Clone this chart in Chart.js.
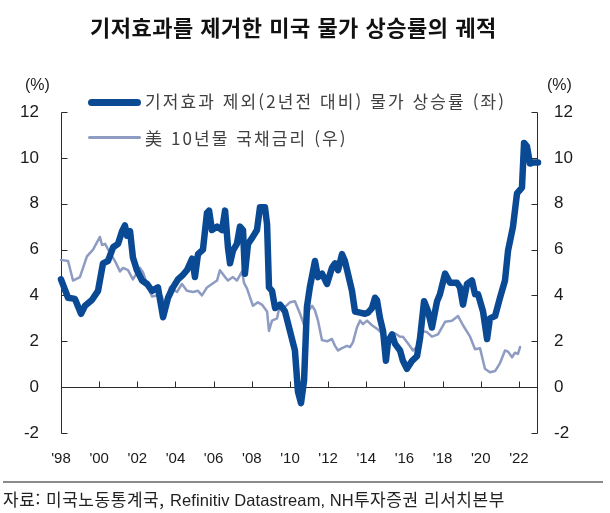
<!DOCTYPE html>
<html lang="ko">
<head>
<meta charset="utf-8">
<script src="https://cdn.jsdelivr.net/npm/chart.js@4.4.0/dist/chart.umd.min.js"></script>
<style>
  html, body { margin: 0; padding: 0; background: #fff; }
  #wrap { position: relative; width: 610px; height: 513px; overflow: hidden; font-family: "Noto Sans CJK KR", "Liberation Sans", sans-serif; }
  #c { position: absolute; left: 0; top: 0; }
  .t { position: absolute; white-space: nowrap; }
  #title { left: 90px; top: 12px; font-size: 22px; font-weight: bold; color: #111; line-height: 28px; letter-spacing: 0.5px; }
  .unit { top: 74px; font-family: "Liberation Sans", sans-serif; font-size: 16px; color: #222; line-height: 22px; }
  .leg { left: 145px; font-size: 17px; color: #404040; line-height: 22px; letter-spacing: 2.1px; }
  .sw { position: absolute; left: 88px; width: 53px; border-radius: 4px; }
  #sep { position: absolute; left: 3px; top: 481px; width: 600px; height: 2px; background: #8a8a8a; }
  #src { left: 3px; top: 487px; font-size: 17px; color: #222; line-height: 24px; letter-spacing: 0.55px; }
  #src .lat { font-family: "Liberation Sans", sans-serif; font-size: 16.5px; letter-spacing: 0.1px; }
</style>
</head>
<body>
<div id="wrap">
  <canvas id="c" width="610" height="513"></canvas>
  <div class="t" id="title">기저효과를 제거한 미국 물가 상승률의 궤적</div>
  <div class="t unit" style="left:25px">(%)</div>
  <div class="t unit" style="left:547px">(%)</div>
  <div class="sw" id="sw1" style="top:99px;height:7px;background:#0A4A94"></div>
  <div class="t leg" id="leg1" style="top:90px"></div>
  <div class="sw" id="sw2" style="top:136px;height:3px;background:#8E9BC2"></div>
  <div class="t leg" id="leg2" style="top:127px"></div>
  <div id="sep"></div>
  <div class="t" id="src">자료: 미국노동통계국, <span class="lat">Refinitiv Datastream, NH</span>투자증권 리서치본부</div>
</div>
<script>
// ---- data ----
const seriesNames = ["기저효과 제외(2년전 대비) 물가 상승률 (좌)", "美 10년물 국채금리 (우)"];

const blueYears = [1998.00,1998.37,1998.73,1999.05,1999.26,1999.62,1999.94,2000.20,2000.46,2000.73,2000.99,2001.20,2001.35,2001.46,2001.62,2001.77,2001.98,2002.25,2002.51,2002.77,2003.08,2003.35,2003.61,2003.87,2004.13,2004.39,2004.60,2004.87,2005.02,2005.18,2005.44,2005.65,2005.76,2005.91,2006.18,2006.44,2006.60,2006.75,2006.86,2007.01,2007.22,2007.38,2007.54,2007.64,2007.80,2008.01,2008.27,2008.43,2008.69,2008.80,2008.90,2009.06,2009.22,2009.48,2009.74,2010.00,2010.26,2010.42,2010.58,2010.74,2010.89,2011.05,2011.31,2011.47,2011.68,2011.94,2012.20,2012.36,2012.52,2012.73,2012.88,2013.04,2013.25,2013.41,2013.67,2013.93,2014.09,2014.30,2014.46,2014.56,2014.72,2014.88,2015.03,2015.14,2015.35,2015.50,2015.77,2015.92,2016.13,2016.40,2016.66,2016.82,2017.03,2017.24,2017.44,2017.71,2017.86,2018.13,2018.39,2018.75,2018.91,2019.07,2019.28,2019.54,2019.70,2019.86,2020.12,2020.33,2020.48,2020.75,2021.01,2021.27,2021.43,2021.69,2021.90,2022.16,2022.27,2022.42,2022.58,2022.74,2023.00];
const blueValues = [4.7,3.9,3.85,3.2,3.55,3.8,4.2,5.4,5.5,6.1,6.25,6.8,7.05,6.6,6.8,5.65,5.1,4.65,4.5,4.2,4.35,3.05,3.9,4.35,4.7,4.9,5.1,5.6,4.8,5.8,6.0,7.6,7.7,6.85,7.0,6.85,7.7,6.1,5.4,5.95,6.25,7.0,6.85,4.95,6.25,6.5,6.85,7.85,7.85,7.1,4.35,4.2,3.45,3.6,3.3,2.45,1.6,-0.2,-0.7,0.3,3.5,4.4,5.5,4.8,4.95,4.5,5.2,5.4,5.1,5.8,5.5,4.95,4.2,3.3,3.25,3.2,3.25,3.45,3.9,3.8,3.0,2.45,1.15,2.0,2.3,1.9,1.6,1.15,0.8,1.15,1.35,2.15,3.75,3.3,2.6,3.75,4.05,4.95,4.55,4.55,4.35,3.6,4.5,4.65,4.05,4.05,3.3,2.1,3.0,3.1,3.9,4.65,5.95,7.0,8.45,8.7,10.65,10.5,9.75,9.8,9.8];

const grayYears = [1998.00,1998.37,1998.63,1998.99,1999.36,1999.68,2000.04,2000.15,2000.31,2000.57,2000.83,2001.09,2001.25,2001.51,2001.77,2002.14,2002.30,2002.56,2002.77,2003.03,2003.29,2003.45,2003.71,2004.08,2004.34,2004.60,2004.92,2005.18,2005.39,2005.65,2005.91,2006.18,2006.33,2006.60,2006.75,2007.01,2007.22,2007.49,2007.59,2007.75,2007.91,2008.06,2008.32,2008.53,2008.80,2008.90,2009.06,2009.32,2009.48,2009.74,2010.00,2010.26,2010.53,2010.79,2010.95,2011.16,2011.31,2011.47,2011.68,2011.94,2012.20,2012.36,2012.52,2012.73,2012.99,2013.15,2013.30,2013.51,2013.67,2013.83,2014.04,2014.30,2014.56,2014.82,2015.09,2015.24,2015.50,2015.77,2015.92,2016.19,2016.45,2016.71,2016.92,2017.18,2017.44,2017.76,2018.13,2018.49,2018.81,2019.07,2019.44,2019.70,2019.96,2020.22,2020.48,2020.75,2021.01,2021.27,2021.43,2021.64,2021.79,2021.95,2022.06];
const grayValues = [5.55,5.5,4.65,4.8,5.7,6.0,6.55,6.2,6.25,5.85,5.5,5.05,5.2,5.1,4.7,5.2,5.0,4.35,3.95,4.0,3.95,3.6,4.35,4.15,4.5,4.2,4.15,4.2,4.0,4.35,4.5,4.65,5.1,4.8,4.65,4.8,4.65,5.05,4.55,4.3,3.9,3.55,3.7,3.6,3.3,2.45,2.9,3.0,3.6,3.5,3.7,3.75,3.2,2.6,3.3,3.55,3.35,2.9,2.05,2.0,2.1,1.8,1.6,1.7,1.8,1.75,1.95,2.6,2.9,2.75,2.9,2.7,2.55,2.35,1.9,2.2,2.35,2.2,2.2,1.9,1.6,1.8,2.45,2.4,2.2,2.3,2.85,2.9,3.1,2.7,2.2,1.65,1.7,0.8,0.65,0.7,1.05,1.6,1.55,1.3,1.5,1.45,1.75];

const xTickYears = [1998,2000,2002,2004,2006,2008,2010,2012,2014,2016,2018,2020,2022];
const xTickLabels = ["'98","'00","'02","'04","'06","'08","'10","'12","'14","'16","'18","'20","'22"];
const yTickValues = [-2,0,2,4,6,8,10,12];

// ---- legend text ----
document.getElementById('leg1').textContent = seriesNames[0];
document.getElementById('leg2').textContent = seriesNames[1];

const toPts = (xs, ys) => xs.map((x, i) => ({x: x, y: ys[i]}));

const axisPlugin = {
  id: 'axisPlugin',
  beforeDatasetsDraw(chart) {
    const ctx = chart.ctx;
    const xs = chart.scales.x, yL = chart.scales.yL, yR = chart.scales.yR;
    const L = Math.round(xs.getPixelForValue(xs.min)) + 0.5;
    const R = Math.round(xs.getPixelForValue(xs.max)) - 0.5;
    const top = Math.round(yL.getPixelForValue(yTickValues[yTickValues.length-1])) + 0.5;
    const bot = Math.round(yL.getPixelForValue(yTickValues[0])) + 0.5;
    ctx.save();
    ctx.strokeStyle = '#2a2a2a';
    ctx.lineWidth = 1;
    ctx.beginPath();
    ctx.moveTo(L, top); ctx.lineTo(L, bot);
    yTickValues.forEach(v => { const y = Math.round(yL.getPixelForValue(v)) + 0.5; ctx.moveTo(L, y); ctx.lineTo(L + 6, y); });
    ctx.moveTo(R, top); ctx.lineTo(R, bot);
    yTickValues.forEach(v => { const y = Math.round(yR.getPixelForValue(v)) + 0.5; ctx.moveTo(R, y); ctx.lineTo(R - 6, y); });
    const z = Math.round(yL.getPixelForValue(0)) + 0.5;
    ctx.moveTo(L, z); ctx.lineTo(R, z);
    xTickYears.forEach(t => { const x = Math.round(xs.getPixelForValue(t)) + 0.5; ctx.moveTo(x, z); ctx.lineTo(x, z - 6); });
    ctx.stroke();
    ctx.restore();
  }
};

new Chart(document.getElementById('c'), {
  type: 'line',
  data: {
    datasets: [
      { label: seriesNames[0], data: toPts(blueYears, blueValues), yAxisID: 'yL', borderColor: '#0A4A94', borderWidth: 6.5, pointRadius: 0, tension: 0, borderJoinStyle: 'round', borderCapStyle: 'round', clip: false, order: 0 },
      { label: seriesNames[1], data: toPts(grayYears, grayValues), yAxisID: 'yR', borderColor: '#8E9BC2', borderWidth: 2.5, pointRadius: 0, tension: 0, borderJoinStyle: 'round', borderCapStyle: 'round', clip: false, order: 1 }
    ]
  },
  options: {
    responsive: false,
    animation: false,
    devicePixelRatio: 1,
    layout: { padding: { top: 112, left: 0, right: 0, bottom: 0 } },
    plugins: { legend: { display: false }, tooltip: { enabled: false }, title: { display: false } },
    scales: {
      x: {
        type: 'linear', min: 1998, max: 2023,
        grid: { display: false, drawTicks: false }, border: { display: false },
        afterBuildTicks: s => { s.ticks = xTickYears.map(v => ({ value: v })); },
        afterFit: s => { s.height = 80; },
        ticks: {
          autoSkip: false, maxRotation: 0, padding: 17, color: '#1a1a1a',
          font: { family: 'Liberation Sans', size: 15 },
          callback: (v) => { const i = xTickYears.indexOf(v); return i >= 0 ? xTickLabels[i] : ''; }
        }
      },
      yL: {
        type: 'linear', position: 'left', min: -2, max: 12,
        grid: { display: false, drawTicks: false }, border: { display: false },
        afterBuildTicks: s => { s.ticks = yTickValues.map(v => ({ value: v })); },
        afterFit: s => { s.width = 61; },
        ticks: { padding: 22, color: '#1a1a1a', font: { family: 'Liberation Sans', size: 17 } }
      },
      yR: {
        type: 'linear', position: 'right', min: -2, max: 12,
        grid: { display: false, drawTicks: false }, border: { display: false },
        afterBuildTicks: s => { s.ticks = yTickValues.map(v => ({ value: v })); },
        afterFit: s => { s.width = 72; },
        ticks: { padding: 16, color: '#1a1a1a', font: { family: 'Liberation Sans', size: 17 } }
      }
    }
  },
  plugins: [axisPlugin]
});
</script>
</body>
</html>
